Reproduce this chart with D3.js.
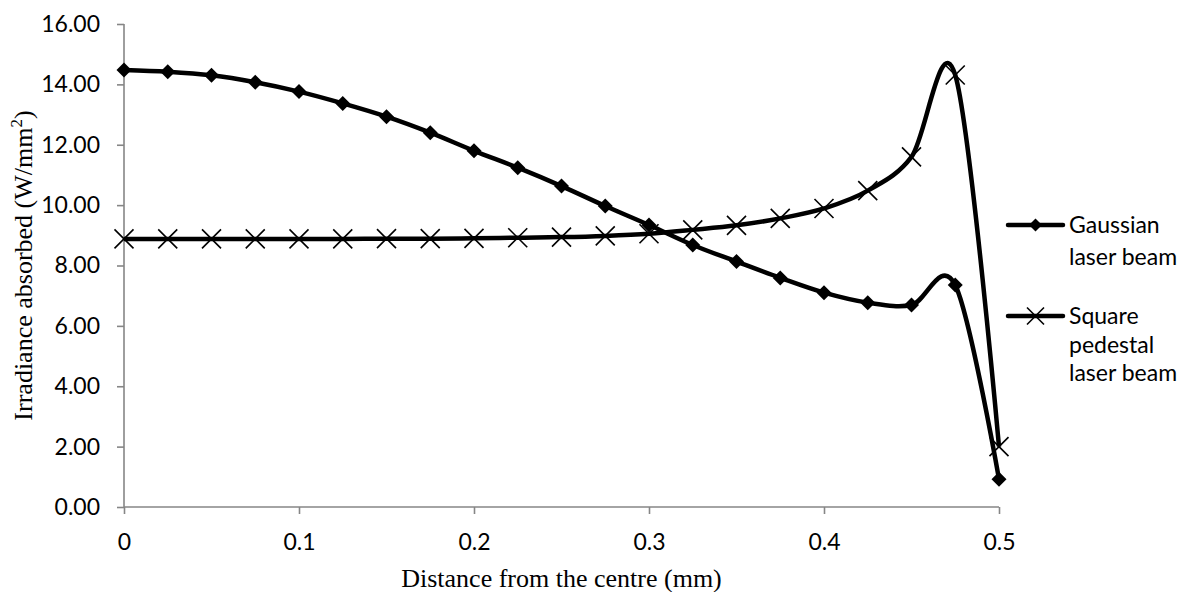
<!DOCTYPE html>
<html>
<head>
<meta charset="utf-8">
<script src="https://cdn.jsdelivr.net/npm/d3@7"></script>
<style>
  html, body { margin: 0; padding: 0; background: #fff; }
  svg { display: block; }
</style>
</head>
<body>
<svg id="chart" width="1194" height="592"></svg>
<script>
// ---- data ----
const distances = [0, 0.025, 0.05, 0.075, 0.1, 0.125, 0.15, 0.175, 0.2, 0.225, 0.25,
                   0.275, 0.3, 0.325, 0.35, 0.375, 0.4, 0.425, 0.45, 0.475, 0.5];
const gaussianValues = [14.48, 14.42, 14.30, 14.07, 13.76, 13.37, 12.93, 12.40, 11.80, 11.24, 10.63,
                        9.97, 9.34, 8.68, 8.13, 7.59, 7.10, 6.77, 6.69, 7.35, 0.92];
const squareValues = [8.88, 8.88, 8.88, 8.88, 8.88, 8.88, 8.89, 8.89, 8.90, 8.92, 8.94,
                      8.98, 9.05, 9.18, 9.33, 9.56, 9.89, 10.48, 11.60, 14.31, 2.00];
const yTicks = [0, 2, 4, 6, 8, 10, 12, 14, 16];
const xTicks = [0, 0.1, 0.2, 0.3, 0.4, 0.5];
const xTickLabels = ["0", "0.1", "0.2", "0.3", "0.4", "0.5"];
const gaussianLegend = ["Gaussian", "laser beam"];
const squareLegend = ["Square", "pedestal", "laser beam"];

// ---- layout ----
const svg = d3.select("#chart");
const plotLeft = 124, plotRight = 999, plotTop = 24, plotBottom = 507;
const x = d3.scaleLinear().domain([0, 0.5]).range([plotLeft, plotRight]);
const y = d3.scaleLinear().domain([0, 16]).range([plotBottom, plotTop]);
const axisColor = "#868686";
const tickFont = "Lato, 'Open Sans', sans-serif";
const serif = "'Liberation Serif', 'Times New Roman', serif";

// y axis
const yAxis = svg.append("g").attr("transform", `translate(${plotLeft},0)`)
  .call(d3.axisLeft(y).tickValues(yTicks).tickSize(7).tickPadding(17)
        .tickFormat(d => d3.format(".2f")(d)));
// x axis
const xAxis = svg.append("g").attr("transform", `translate(0,${plotBottom})`)
  .call(d3.axisBottom(x).tickValues(xTicks).tickSize(7).tickPadding(20)
        .tickFormat((d, i) => xTickLabels[i]));

[yAxis, xAxis].forEach(g => {
  g.select(".domain").attr("stroke", axisColor).attr("stroke-width", 1.6);
  g.selectAll(".tick line").attr("stroke", axisColor).attr("stroke-width", 1.6);
  g.selectAll(".tick text").attr("fill", "#000").attr("font-family", tickFont)
    .attr("font-size", 23);
});
yAxis.select(".domain").attr("d", `M0,${plotTop}V${plotBottom}`);
xAxis.select(".domain").attr("d", `M${plotLeft},0H${plotRight}`);

// axis titles
svg.append("text")
  .attr("x", (plotLeft + plotRight) / 2).attr("y", 587)
  .attr("text-anchor", "middle").attr("font-family", serif).attr("font-size", 26)
  .text("Distance from the centre (mm)");

const yt = svg.append("text")
  .attr("transform", `translate(32,${(plotTop + plotBottom) / 2}) rotate(-90)`)
  .attr("text-anchor", "middle").attr("font-family", serif).attr("font-size", 26);
yt.append("tspan").text("Irradiance absorbed (W/mm");
yt.append("tspan").attr("font-size", 17).attr("dy", -10).text("2");
yt.append("tspan").attr("dy", 10).text(")");

// ---- series ----
const line = d3.line()
  .x((d, i) => x(distances[i]))
  .y(d => y(d))
  .curve(d3.curveCardinal.tension(0));

const diamond = (cx, cy, h) => `M${cx},${cy - h}L${cx + h},${cy}L${cx},${cy + h}L${cx - h},${cy}Z`;
const cross = (cx, cy, h) => `M${cx - h},${cy - h}L${cx + h},${cy + h}M${cx - h},${cy + h}L${cx + h},${cy - h}`;

// Gaussian
svg.append("path").datum(gaussianValues)
  .attr("d", line).attr("fill", "none").attr("stroke", "#000")
  .attr("stroke-width", 4.5).attr("stroke-linejoin", "round");
svg.append("g").selectAll("path").data(gaussianValues).join("path")
  .attr("d", (d, i) => diamond(x(distances[i]), y(d), 7.5))
  .attr("fill", "#000");

// Square
svg.append("path").datum(squareValues)
  .attr("d", line).attr("fill", "none").attr("stroke", "#000")
  .attr("stroke-width", 4.5).attr("stroke-linejoin", "round");
svg.append("g").selectAll("path").data(squareValues).join("path")
  .attr("d", (d, i) => cross(x(distances[i]), y(d), 9.5))
  .attr("fill", "none").attr("stroke", "#000").attr("stroke-width", 1.6);

// ---- legend ----
const lx0 = 1008, lx1 = 1063, tx = 1069;
function legendEntry(ly, lines, marker, spacing) {
  svg.append("line").attr("x1", lx0).attr("x2", lx1).attr("y1", ly).attr("y2", ly)
    .attr("stroke", "#000").attr("stroke-width", 4.5).attr("stroke-linecap", "round");
  const mx = (lx0 + lx1) / 2;
  if (marker === "diamond") {
    svg.append("path").attr("d", diamond(mx, ly, 6.5)).attr("fill", "#000");
  } else {
    svg.append("path").attr("d", cross(mx, ly, 8.5)).attr("fill", "none")
      .attr("stroke", "#000").attr("stroke-width", 1.6);
  }
  svg.append("g").selectAll("text").data(lines).join("text")
    .attr("x", tx).attr("y", (d, i) => ly + 8 + i * spacing)
    .attr("font-family", tickFont).attr("font-size", 23).attr("fill", "#000")
    .text(d => d);
}
legendEntry(225, gaussianLegend, "diamond", 32);
legendEntry(316, squareLegend, "cross", 28.5);
</script>
</body>
</html>
